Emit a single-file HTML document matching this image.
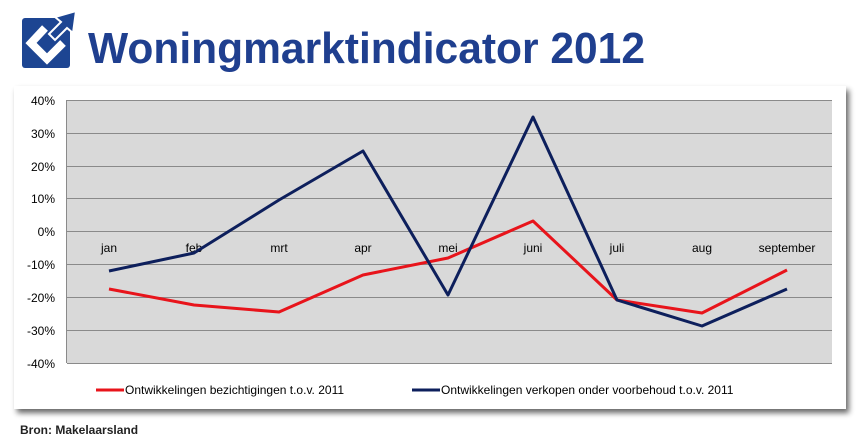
<!DOCTYPE html>
<html><head><style>body{margin:0;background:#fff}svg{display:block}</style></head><body>
<svg width="860" height="446" xmlns="http://www.w3.org/2000/svg" font-family="Liberation Sans, Arial, sans-serif">
<defs><filter id="sh" x="-5%" y="-5%" width="115%" height="120%"><feGaussianBlur in="SourceAlpha" stdDeviation="3"/><feOffset dx="3" dy="4"/><feComponentTransfer><feFuncA type="linear" slope="0.6"/></feComponentTransfer><feMerge><feMergeNode/><feMergeNode in="SourceGraphic"/></feMerge></filter></defs>
<!-- logo -->
<rect x="22" y="18" width="48" height="50" rx="3" fill="#1d4592"/>
<path d="M45 28 L31 43 L47 59 L63 43" fill="none" stroke="#fff" stroke-width="8" stroke-linejoin="miter"/>
<path d="M76 11 L73 33 L67 28 L55 40 L49 34 L61 22 L55 17 Z" fill="#1d4592" stroke="#fff" stroke-width="2" stroke-linejoin="miter"/>
<text x="88" y="63" font-size="44" font-weight="bold" fill="#1f3f8f" textLength="557" lengthAdjust="spacingAndGlyphs">Woningmarktindicator 2012</text>
<!-- chart box -->
<rect x="14" y="86" width="832" height="323" fill="#fff" filter="url(#sh)"/>
<rect x="67" y="100" width="765" height="263" fill="#d9d9d9"/>
<g stroke="#8a8a8a" stroke-width="1">
<line x1="67" y1="100.5" x2="832" y2="100.5"/><line x1="67" y1="133.5" x2="832" y2="133.5"/><line x1="67" y1="166.5" x2="832" y2="166.5"/><line x1="67" y1="198.5" x2="832" y2="198.5"/><line x1="67" y1="231.5" x2="832" y2="231.5"/><line x1="67" y1="264.5" x2="832" y2="264.5"/><line x1="67" y1="297.5" x2="832" y2="297.5"/><line x1="67" y1="330.5" x2="832" y2="330.5"/><line x1="67" y1="363.5" x2="832" y2="363.5"/>
<line x1="66.5" y1="100" x2="66.5" y2="363"/>
</g>
<g font-size="12" fill="#000" text-anchor="end">
<text x="55" y="105">40%</text><text x="55" y="138">30%</text><text x="55" y="171">20%</text><text x="55" y="203">10%</text><text x="55" y="236">0%</text><text x="55" y="269">-10%</text><text x="55" y="302">-20%</text><text x="55" y="335">-30%</text><text x="55" y="368">-40%</text>
</g>
<g font-size="12" fill="#000" text-anchor="middle">
<text x="109" y="252">jan</text><text x="194" y="252">feb</text><text x="279" y="252">mrt</text><text x="363" y="252">apr</text><text x="448" y="252">mei</text><text x="533" y="252">juni</text><text x="617" y="252">juli</text><text x="702" y="252">aug</text><text x="787" y="252">september</text>
</g>
<polyline fill="none" stroke="#e8141b" stroke-width="3" stroke-linejoin="round" points="109,289 194,305 279,312 363,275 448,258 533,221 617,300 702,313 787,270"/>
<polyline fill="none" stroke="#0d1f5c" stroke-width="3" stroke-linejoin="round" points="109,271 194,253 279,200 363,151 448,295 533,117 617,300 702,326 787,289"/>
<line x1="96" y1="390" x2="124" y2="390" stroke="#e8141b" stroke-width="3"/>
<text x="125" y="394" font-size="12">Ontwikkelingen bezichtigingen t.o.v. 2011</text>
<line x1="412" y1="390" x2="440" y2="390" stroke="#0d1f5c" stroke-width="3"/>
<text x="441" y="394" font-size="12">Ontwikkelingen verkopen onder voorbehoud t.o.v. 2011</text>
<text x="20" y="434" font-size="12" font-weight="bold" fill="#222">Bron: Makelaarsland</text>
</svg>
</body></html>
